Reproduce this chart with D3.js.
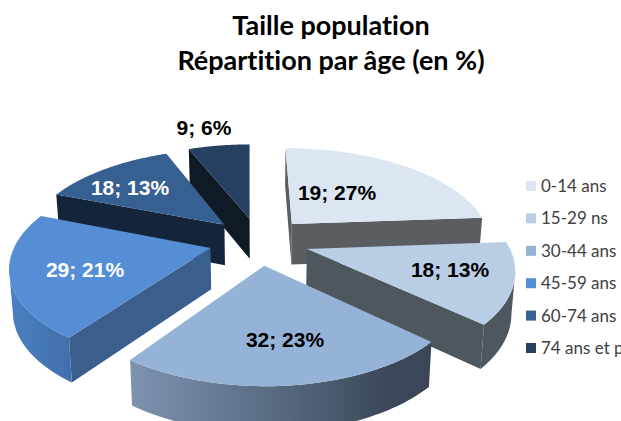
<!DOCTYPE html>
<html>
<head>
    <meta charset="utf-8">
    <title>Taille population</title>
    <style>
        html, body { margin: 0; padding: 0; background: #fff; overflow: hidden; }
        svg { display: block; }
        text { font-variant-ligatures: none; }
    </style>
</head>
<body>
    <svg></svg>
    <script src="https://d3js.org/d3.v7.min.js"></script>
    <script>
        const categories = ['0-14 ans', '15-29 ns', '30-44 ans', '45-59 ans', '60-74 ans', '74 ans et plus'];
        const counts = [19, 18, 32, 29, 18, 9];
        const percentLabels = [27, 13, 23, 21, 13, 6];
        // angular share as drawn: the first slice is drawn smaller than its label says
        const shares = [24, 13, 23, 21, 13, 6];

        const topColors = ['#dce6f2', '#b9cde5', '#95b3d7', '#558ed5', '#376092', '#254061'];
        const sideColors = ['#5a5d62', '#4e565e', '#3c4859', '#3a5f8c', '#14243a', '#101a27'];
        const labelColors = ['#000', '#000', '#000', '#fff', '#fff', '#000'];
        const labelSpots = [[337, 193], [450, 270], [285, 340], [85, 270], [130, 188], [204, 128]];
        const radiusFactor = [1, 1, 0.95, 0.97, 1, 1];
        const drawOrder = [5, 4, 0, 3, 1, 2];

        const width = 621;
        const height = 421;
        const cx = 259, cy = 241, rx = 200, ry = 95;
        const tilt = 0.18, explode = 0.25;
        const startDeg = -0.5;

        const svg = d3.select('svg').attr('width', width).attr('height', height);

        // perspective view of the unit pie plane
        const project = (u, v, down) => {
            const w = 1 / (1 - tilt * v);
            const x = rx * u * w;
            const y = ry * v * w;
            if (!down) return [cx + x, cy + y];
            return [cx + x * 0.985, cy + y + 21 + 20 * w];
        };

        const arcs = d3.pie().sort(null).value(d => d)
            .startAngle(startDeg * Math.PI / 180)
            .endAngle(Math.PI * 2 + startDeg * Math.PI / 180)(shares);

        const line = d3.line();
        const defs = svg.append('defs');
        const addGradient = (id, x1, x2, stops) => {
            const g = defs.append('linearGradient').attr('id', id)
                .attr('gradientUnits', 'userSpaceOnUse')
                .attr('x1', x1).attr('x2', x2).attr('y1', 0).attr('y2', 0);
            stops.forEach(s => g.append('stop').attr('offset', s[0]).attr('stop-color', s[1]));
        };
        addGradient('frontWall', 134, 433, [[0, '#7d92af'], [0.5, '#56677f'], [0.85, '#3c4859'], [1, '#3a4657']]);
        addGradient('leftWall', 10, 80, [[0, '#4a7fc2'], [1, '#3f6ea8']]);

        const arcFill = i => i === 2 ? 'url(#frontWall)' : i === 3 ? 'url(#leftWall)' : sideColors[i];

        const drawSlice = i => {
            const a = arcs[i];
            const mid = (a.startAngle + a.endAngle) / 2;
            const ox = explode * Math.sin(mid);
            const oy = -explode * Math.cos(mid);
            const r = radiusFactor[i];
            const point = t => [ox + r * Math.sin(t), oy - r * Math.cos(t)];
            const apex = [ox, oy];
            const rim = d3.range(0, 61).map(k => point(a.startAngle + (a.endAngle - a.startAngle) * k / 60));
            const outline = [apex, ...rim];
            const g = svg.append('g').attr('class', 'slice');

            // only walls turned towards the viewer: clockwise edges running right to left
            const wall = (pts, fill) => {
                const top = pts.map(p => project(p[0], p[1]));
                const bottom = pts.map(p => project(p[0], p[1], true)).reverse();
                g.append('path').attr('d', line([...top, ...bottom]) + 'Z').attr('fill', fill);
            };
            const turned = (p, q) => project(q[0], q[1])[0] < project(p[0], p[1])[0];
            if (turned(apex, rim[0])) wall([apex, rim[0]], sideColors[i]);
            if (turned(rim[60], apex)) wall([rim[60], apex], sideColors[i]);
            const front = rim.filter((p, k) => (k < 60 && turned(p, rim[k + 1])) || (k > 0 && turned(rim[k - 1], p)));
            if (front.length > 1) wall(front, arcFill(i));

            g.append('path')
                .attr('d', line(outline.map(p => project(p[0], p[1]))) + 'Z')
                .attr('fill', topColors[i]);
        };
        drawOrder.forEach(drawSlice);

        svg.selectAll('text.value').data(shares).enter().append('text')
            .attr('class', 'value')
            .attr('x', (d, i) => labelSpots[i][0])
            .attr('y', (d, i) => labelSpots[i][1])
            .attr('dy', '0.35em')
            .attr('text-anchor', 'middle')
            .attr('font-family', '"Liberation Sans", Arial, sans-serif')
            .attr('font-weight', 'bold')
            .attr('font-size', 21)
            .attr('fill', (d, i) => labelColors[i])
            .text((d, i) => `${counts[i]}; ${percentLabels[i]}%`);

        const title = svg.append('text')
            .attr('text-anchor', 'middle')
            .attr('font-family', 'Lato, sans-serif')
            .attr('font-weight', 'bold')
            .attr('font-size', 27)
            .attr('fill', '#000');
        title.append('tspan').attr('x', 331).attr('y', 35).text('Taille population');
        title.append('tspan').attr('x', 331).attr('y', 70).text('Répartition par âge (en %)');

        const legendY = d3.scalePoint().domain(categories).range([186, 348]);
        const legend = svg.selectAll('g.legend').data(categories).enter().append('g')
            .attr('class', 'legend')
            .attr('transform', d => `translate(526,${legendY(d)})`);
        legend.append('rect')
            .attr('y', -5).attr('width', 10).attr('height', 10)
            .attr('fill', (d, i) => topColors[i]);
        legend.append('text')
            .attr('x', 15).attr('dy', '0.35em')
            .attr('font-family', 'Lato, sans-serif')
            .attr('font-size', 17)
            .attr('fill', '#404040')
            .text(d => d);
    </script>
</body>
</html>
